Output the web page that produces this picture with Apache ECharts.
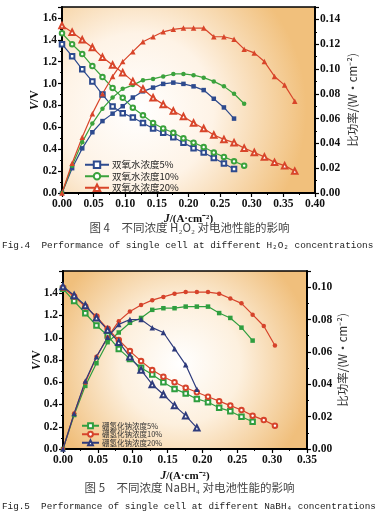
<!DOCTYPE html>
<html><head><meta charset="utf-8">
<script src="https://cdn.jsdelivr.net/npm/echarts@6/dist/echarts.min.js"></script>
<style>html,body{margin:0;padding:0;background:#fff}#c{width:379px;height:520px}</style>
</head><body><div id="c"></div>
<script>
// ---------- Figure 4 data (H2O2 concentration) ----------
const J1 = [0, 0.016, 0.032, 0.048, 0.064, 0.080, 0.096, 0.112, 0.128, 0.144, 0.160, 0.176,
            0.192, 0.208, 0.224, 0.240, 0.256, 0.272, 0.288, 0.304, 0.320, 0.336, 0.352, 0.368];
const names1 = ['双氧水浓度5%', '双氧水浓度10%', '双氧水浓度20%'];
const v1_5  = [1.36,1.25,1.13,1.02,0.90,0.79,0.73,0.69,0.64,0.59,0.55,0.51,0.46,0.41,0.37,0.32,0.27,0.22];
const p1_5  = [0,0.020,0.036,0.049,0.058,0.064,0.070,0.077,0.082,0.085,0.088,0.089,0.088,0.086,0.083,0.076,0.069,0.060];
const v1_10 = [1.46,1.36,1.27,1.16,1.06,0.96,0.87,0.78,0.71,0.64,0.59,0.55,0.50,0.46,0.42,0.37,0.33,0.29,0.25];
const p1_10 = [0,0.022,0.041,0.056,0.068,0.077,0.084,0.087,0.091,0.092,0.094,0.096,0.096,0.095,0.093,0.090,0.086,0.080,0.072];
const v1_20 = [1.53,1.47,1.40,1.33,1.24,1.17,1.10,1.02,0.95,0.87,0.81,0.75,0.70,0.64,0.59,0.53,0.49,0.46,0.41,0.37,0.33,0.28,0.25,0.20];
const p1_20 = [0,0.024,0.045,0.064,0.080,0.094,0.106,0.114,0.122,0.126,0.130,0.132,0.133,0.133,0.133,0.126,0.126,0.124,0.116,0.113,0.106,0.094,0.087,0.074];

// ---------- Figure 5 data (NaBH4 concentration) ----------
const J2 = [0, 0.016, 0.032, 0.048, 0.064, 0.080, 0.096, 0.112, 0.128, 0.144, 0.160, 0.176,
            0.192, 0.208, 0.224, 0.240, 0.256, 0.272, 0.288, 0.304];
const names2 = ['硼氢化钠浓度5%', '硼氢化钠浓度10%', '硼氢化钠浓度20%'];
const v2_5  = [1.44,1.33,1.22,1.11,1.02,0.90,0.81,0.73,0.67,0.60,0.54,0.50,0.45,0.42,0.37,0.34,0.29,0.245];
const p2_5  = [0,0.021,0.039,0.053,0.066,0.072,0.078,0.081,0.086,0.087,0.087,0.088,0.088,0.088,0.084,0.081,0.075,0.067];
const v2_10 = [1.45,1.37,1.28,1.19,1.08,0.98,0.88,0.79,0.71,0.65,0.60,0.55,0.51,0.47,0.43,0.39,0.35,0.30,0.26,0.21];
const p2_10 = [0,0.022,0.041,0.057,0.069,0.079,0.085,0.089,0.092,0.094,0.096,0.097,0.097,0.097,0.096,0.093,0.090,0.083,0.076,0.064];
const v2_20 = [1.46,1.38,1.29,1.18,1.07,0.96,0.83,0.71,0.58,0.49,0.39,0.30,0.19];
const p2_20 = [0,0.022,0.042,0.057,0.069,0.077,0.080,0.080,0.075,0.072,0.062,0.052,0.037];

const xTicks1 = [0, 0.40], xTicks2 = [0, 0.35];
const vRange1 = [0, 1.7], pRange1 = [0, 0.15];
const vRange2 = [0, 1.6], pRange2 = [0, 0.11];

// ---------- styling ----------
const BLUE = '#2d4a8e', GREEN = '#3ba23c', RED = '#d8452a';
const BLUE2 = '#2e3b7c', GREEN2 = '#2f9e3f', RED2 = '#d6432b';
const tickFont = {fontFamily: 'Liberation Serif', fontWeight: 'bold', fontSize: 11.5, color: '#111'};
const nameRich = {i: {fontStyle: 'italic', fontFamily: 'Liberation Serif', fontWeight: 'bold', fontSize: 11.5, color: '#111'}};

function pairs(xs, ys) { return ys.map((y, i) => [xs[i], y]); }

function mkSeries(name, xi, yi, data, color, symbol, size) {
  return {name, type: 'line', xAxisIndex: xi, yAxisIndex: yi, data,
    symbol, symbolSize: size, showSymbol: true,
    lineStyle: {color, width: 1.2}, itemStyle: {color, borderWidth: 1},
    emphasis: {disabled: true}, animation: false, z: 3};
}

function bg(cx, cy, r, c1, c2, c3) {
  return {type: 'radial', x: cx, y: cy, r: r, colorStops: [
    {offset: 0, color: c1}, {offset: 0.45, color: c2}, {offset: 1, color: c3}]};
}

function xAx(gi, rng, gap) {
  return {type: 'value', gridIndex: gi, min: rng[0], max: rng[1], interval: 0.05,
    axisLine: {lineStyle: {color: '#000', width: 2}},
    axisTick: {length: 4, lineStyle: {color: '#000', width: 1.2}},
    minorTick: {show: true, splitNumber: 2, length: 2, lineStyle: {color: '#000'}},
    splitLine: {show: false},
    axisLabel: Object.assign({margin: 5, formatter: v => v.toFixed(2)}, tickFont),
    name: '{i|J}/(A·cm⁻²)', nameLocation: 'middle', nameGap: gap, nameMoveOverlap: false,
    nameTextStyle: {fontFamily: 'Liberation Serif', fontWeight: 'bold', fontSize: 11, color: '#111', rich: nameRich}};
}
function yAx(gi, pos, rng, itv, dec, name, gap, nameStyle) {
  return {type: 'value', gridIndex: gi, position: pos, min: rng[0], max: rng[1], interval: itv,
    axisLine: {show: true, lineStyle: {color: '#000', width: 2}},
    axisTick: {show: true, length: 4, lineStyle: {color: '#000', width: 1.2}},
    minorTick: {show: true, splitNumber: 2, length: 2, lineStyle: {color: '#000'}},
    splitLine: {show: false},
    axisLabel: Object.assign({margin: 5, showMaxLabel: false, formatter: v => v.toFixed(dec)}, tickFont),
    name, nameLocation: 'middle', nameGap: gap, nameRotate: 90, nameMoveOverlap: false, nameTextStyle: nameStyle};
}

const vName = {fontFamily: 'Liberation Serif', fontWeight: 'bold', fontSize: 12, color: '#111', rich: {i: {fontStyle: 'italic', fontFamily: 'Liberation Serif', fontWeight: 'bold', fontSize: 12, color: '#111'}}};
const pName = {fontFamily: 'Noto Sans CJK SC', fontSize: 11.5, color: '#333'};

const option = {
  backgroundColor: '#fff',
  animation: false,
  grid: [
    {left: 62, top: 7, width: 253, height: 186, show: true, borderColor: '#000', borderWidth: 1.5,
     backgroundColor: bg(0.3, 0.55, 0.9, '#ffffff', '#fef3e6', '#f1c07c')},
    {left: 63, top: 271, width: 244, height: 178, show: true, borderColor: '#000', borderWidth: 1.5,
     backgroundColor: bg(0.48, 0.52, 0.75, '#ffffff', '#fdf0de', '#f0bf7c')}
  ],
  xAxis: [xAx(0, xTicks1, 20), xAx(1, xTicks2, 21)],
  yAxis: [
    yAx(0, 'left', vRange1, 0.2, 1, '{i|V}/V', 21, vName),
    yAx(0, 'right', pRange1, 0.02, 2, '比功率/(W·cm⁻²)', 32, pName),
    yAx(1, 'left', vRange2, 0.2, 1, '{i|V}/V', 20, vName),
    yAx(1, 'right', pRange2, 0.02, 2, '比功率/(W·cm⁻²)', 30, pName)
  ],
  legend: [
    {data: names1, orient: 'vertical', left: 79, top: 155, itemWidth: 24, itemHeight: 8, itemGap: 2,
     textStyle: {fontFamily: 'Noto Sans CJK SC', fontSize: 9.5, color: '#222', padding: [0, 0, 0, -2]}},
    {data: names2, orient: 'vertical', left: 76, top: 417, itemWidth: 17, itemHeight: 6, itemGap: 1,
     textStyle: {fontFamily: 'Noto Sans CJK SC', fontSize: 7.5, color: '#333', padding: [0, 0, 0, -2]}}
  ],
  series: [
    mkSeries(names1[0], 0, 0, pairs(J1, v1_5), BLUE, 'emptyRect', 4.5),
    mkSeries(names1[0], 0, 1, pairs(J1, p1_5), BLUE, 'rect', 4.5),
    mkSeries(names1[1], 0, 0, pairs(J1, v1_10), GREEN, 'emptyCircle', 4.5),
    mkSeries(names1[1], 0, 1, pairs(J1, p1_10), GREEN, 'circle', 4.5),
    mkSeries(names1[2], 0, 0, pairs(J1, v1_20), RED, 'emptyTriangle', 5.5),
    mkSeries(names1[2], 0, 1, pairs(J1, p1_20), RED, 'triangle', 5.5),
    mkSeries(names2[0], 1, 2, pairs(J2, v2_5), GREEN2, 'emptyRect', 4.5),
    mkSeries(names2[0], 1, 3, pairs(J2, p2_5), GREEN2, 'rect', 4.5),
    mkSeries(names2[1], 1, 2, pairs(J2, v2_10), RED2, 'emptyCircle', 4.5),
    mkSeries(names2[1], 1, 3, pairs(J2, p2_10), RED2, 'circle', 4.5),
    mkSeries(names2[2], 1, 2, pairs(J2, v2_20), BLUE2, 'emptyTriangle', 5.5),
    mkSeries(names2[2], 1, 3, pairs(J2, p2_20), BLUE2, 'triangle', 5.5)
  ],
  graphic: [
    {type: 'text', left: 'center', top: 222, style: {text: '图 4　不同浓度 H₂O₂ 对电池性能的影响', font: '11.5px "Noto Sans CJK SC"', fill: '#444'}},
    {type: 'text', left: 2, top: 241, style: {text: 'Fig.4  Performance of single cell at different H₂O₂ concentrations', font: '9.4px "Liberation Mono"', fill: '#222'}},
    {type: 'text', left: 'center', top: 482, style: {text: '图 5　不同浓度 NaBH₄ 对电池性能的影响', font: '11.5px "Noto Sans CJK SC"', fill: '#444'}},
    {type: 'text', left: 2, top: 502, style: {text: 'Fig.5  Performance of single cell at different NaBH₄ concentrations', font: '9.3px "Liberation Mono"', fill: '#222'}}
  ]
};

const chart = echarts.init(document.getElementById('c'), null, {renderer: 'canvas'});
chart.setOption(option);
</script>
</body></html>
